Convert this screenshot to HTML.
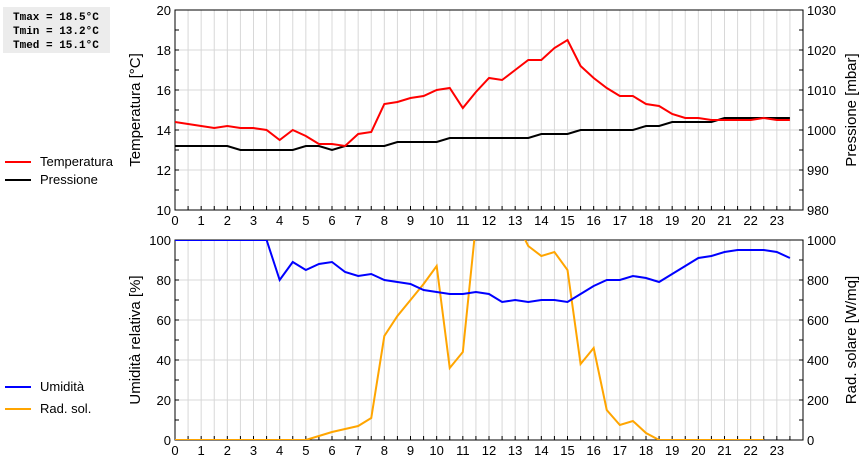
<!DOCTYPE html>
<html><head><meta charset="utf-8"><style>
body{margin:0;background:#fff;}
svg{display:block;font-family:"Liberation Sans",sans-serif;}
</style></head><body>
<svg id="c" width="860" height="460" xmlns="http://www.w3.org/2000/svg">
<defs>
<clipPath id="clipTop"><rect x="175" y="10" width="628" height="200"/></clipPath>
<clipPath id="clipBot"><rect x="175" y="240" width="628" height="200"/></clipPath>
</defs>
<g>
<rect x="3" y="7" width="107" height="46" fill="#ececec"/>
<text x="13" y="20" font-family="Liberation Mono,monospace" font-weight="bold" font-size="11">Tmax = 18.5°C</text>
<text x="13" y="34" font-family="Liberation Mono,monospace" font-weight="bold" font-size="11">Tmin = 13.2°C</text>
<text x="13" y="48" font-family="Liberation Mono,monospace" font-weight="bold" font-size="11">Tmed = 15.1°C</text>
</g>
<g>
<line x1="5" y1="162" x2="31" y2="162" stroke="#f00" stroke-width="2"/>
<text x="40" y="166" font-size="13">Temperatura</text>
<line x1="5" y1="180" x2="31" y2="180" stroke="#000" stroke-width="2"/>
<text x="40" y="184" font-size="13">Pressione</text>
</g>
<g>
<line x1="5" y1="387" x2="31" y2="387" stroke="#00f" stroke-width="2"/>
<text x="40" y="391" font-size="13">Umidità</text>
<line x1="5" y1="409" x2="31" y2="409" stroke="#ffa500" stroke-width="2"/>
<text x="40" y="413" font-size="13">Rad. sol.</text>
</g>
<g id="layer"></g>
</svg>
<script>
const hours = [];
for (let i = 0; i < 48; i++) hours.push(i / 2);
const temperature = [14.4,14.3,14.2,14.1,14.2,14.1,14.1,14.0,13.5,14.0,13.7,13.3,13.3,13.2,13.8,13.9,15.3,15.4,15.6,15.7,16.0,16.1,15.1,15.9,16.6,16.5,17.0,17.5,17.5,18.1,18.5,17.2,16.6,16.1,15.7,15.7,15.3,15.2,14.8,14.6,14.6,14.5,14.5,14.5,14.5,14.6,14.5,14.5];
const pressure = [996,996,996,996,996,995,995,995,995,995,996,996,995,996,996,996,996,997,997,997,997,998,998,998,998,998,998,998,999,999,999,1000,1000,1000,1000,1000,1001,1001,1002,1002,1002,1002,1003,1003,1003,1003,1003,1003];
const humidity = [100,100,100,100,100,100,100,100,80,89,85,88,89,84,82,83,80,79,78,75,74,73,73,74,73,69,70,69,70,70,69,73,77,80,80,82,81,79,83,87,91,92,94,95,95,95,94,91];
const radiation = [0,0,0,0,0,0,0,0,0,0,0,20,40,55,70,110,520,620,700,780,870,360,440,1080,1150,1150,1100,970,920,940,850,380,460,150,75,95,35,0,0,0,0,0,0,0,0,0];
const xTickLabels = ["0","1","2","3","4","5","6","7","8","9","10","11","12","13","14","15","16","17","18","19","20","21","22","23"];
const tempTicks = [10,12,14,16,18,20];
const pressTicks = [980,990,1000,1010,1020,1030];
const humTicks = [0,20,40,60,80,100];
const radTicks = [0,200,400,600,800,1000];

const NS = "http://www.w3.org/2000/svg";
const L = 175, R = 803;
const x = h => L + h / 24 * (R - L);
const yScale = (top, bot, min, max) => v => bot - (v - min) / (max - min) * (bot - top);
const yT = yScale(10, 210, 10, 20), yP = yScale(10, 210, 980, 1030);
const yH = yScale(240, 440, 0, 100), yR = yScale(240, 440, 0, 1000);
const layer = document.getElementById("layer");
function el(tag, attrs, parent) {
  const e = document.createElementNS(NS, tag);
  for (const k in attrs) e.setAttribute(k, attrs[k]);
  (parent || layer).appendChild(e);
  return e;
}
function panel(top, bot, leftTicks, yL, rightTicks, yRt, leftTitle, rightTitle, name) {
  const g = el("g", {});
  
  
  const grid = el("g", {stroke: "#d8d8d8", "stroke-width": 1}, g);
  for (let i = 1; i < 48; i++) el("line", {x1: x(i/2), y1: top, x2: x(i/2), y2: bot}, grid);
  for (let i = 1; i < leftTicks.length - 1; i++) el("line", {x1: L, y1: yL(leftTicks[i]), x2: R, y2: yL(leftTicks[i])}, grid);
  const ax = el("g", {stroke: "#000", "stroke-width": 1}, g);
  el("rect", {x: L, y: top, width: R - L, height: bot - top, fill: "none"}, ax);
  for (let i = 1; i < 48; i++) el("line", {x1: x(i/2), y1: bot, x2: x(i/2), y2: bot - 4}, ax);
  const st = (leftTicks[1] - leftTicks[0]) / 2;
  for (let v = leftTicks[0]; v <= leftTicks[leftTicks.length-1]; v += st) {
    el("line", {x1: L, y1: yL(v), x2: L + 4, y2: yL(v)}, ax);
    el("line", {x1: R, y1: yL(v), x2: R - 4, y2: yL(v)}, ax);
  }
  leftTicks.forEach(v => { const t = el("text", {x: L - 4, y: yL(v) + 5, "text-anchor": "end", "font-size": 13}, g); t.textContent = v; });
  rightTicks.forEach(v => { const t = el("text", {x: R + 4, y: yRt(v) + 5, "font-size": 13}, g); t.textContent = v; });
  xTickLabels.forEach((s, i) => { const t = el("text", {x: x(i), y: bot + 15, "text-anchor": "middle", "font-size": 13}, g); t.textContent = s; });
  const cy = (top + bot) / 2;
  const lt = el("text", {x: 0, y: 0, transform: `translate(140,${cy}) rotate(-90)`, "text-anchor": "middle", "font-size": 15}, g);
  lt.textContent = leftTitle;
  const rt = el("text", {x: 0, y: 0, transform: `translate(856,${cy}) rotate(-90)`, "text-anchor": "middle", "font-size": 15}, g);
  rt.textContent = rightTitle;
}
panel(10, 210, tempTicks, yT, pressTicks, yP, "Temperatura [°C]", "Pressione [mbar]", "top-panel");
panel(240, 440, humTicks, yH, radTicks, yR, "Umidità relativa [%]", "Rad. solare [W/mq]", "bottom-panel");
function series(vals, ys, color, clip, name) {
  const p = el("polyline", {points: vals.map((v, i) => x(hours[i]) + "," + ys(v)).join(" "), fill: "none", stroke: color, "stroke-width": 2, "clip-path": `url(#${clip})`});
  
  
}
series(pressure, yP, "#000", "clipTop", "pressure-line");
series(temperature, yT, "#f00", "clipTop", "temperature-line");
series(radiation, yR, "#ffa500", "clipBot", "radiation-line");
series(humidity, yH, "#00f", "clipBot", "humidity-line");
</script>
</body></html>
